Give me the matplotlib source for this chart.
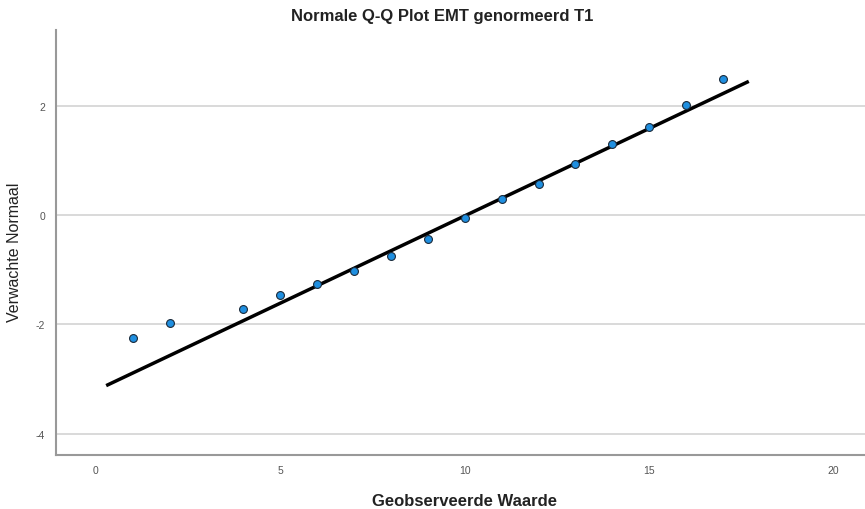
import matplotlib
matplotlib.use("Agg")
import matplotlib.pyplot as plt

observed = [1, 2, 4, 5, 6, 7, 8, 9, 10, 11, 12, 13, 14, 15, 16, 17]
expected = [-2.25, -1.97, -1.72, -1.47, -1.26, -1.03, -0.75, -0.44, -0.06,
            0.29, 0.58, 0.93, 1.30, 1.62, 2.01, 2.49]
line_x = [0.28, 17.7]
line_y = [-3.12, 2.45]
xticks = [0, 5, 10, 15, 20]
yticks = [-4, -2, 0, 2]

title = "Normale Q-Q Plot EMT genormeerd T1"
xlabel = "Geobserveerde Waarde"
ylabel = "Verwachte Normaal"

plt.rcParams['font.family'] = ['Liberation Sans', 'DejaVu Sans']
plt.rcParams['axes.unicode_minus'] = False

fig = plt.figure(figsize=(8.65, 5.10), dpi=100)
ax = fig.add_axes([56/865, 54/510, 1 - 56/865, (456-31)/510])

ax.set_xlim(-1.08, 20.85)
ax.set_ylim(-4.39, 3.39)

for y in yticks:
    ax.axhline(y, color='#d9d9d9', lw=1.4, zorder=0)

ax.plot(line_x, line_y, color='black', lw=2.5, zorder=2, solid_capstyle='butt')
ax.scatter(observed, expected, s=32, facecolor='#1f8fe0', edgecolor='#1a2a3a',
           linewidths=0.8, zorder=3)

ax.set_xticks(xticks)
ax.set_yticks(yticks)
ax.tick_params(length=0, labelsize=7.5, labelcolor='#555555')
ax.tick_params(axis='x', pad=7)
ax.tick_params(axis='y', pad=8)

for s in ['top', 'right']:
    ax.spines[s].set_visible(False)
for s in ['left', 'bottom']:
    ax.spines[s].set_color('#999999')
    ax.spines[s].set_linewidth(1.5)

fig.text(442/865, 1 - 16/510, title, ha='center', va='center',
         fontsize=12, fontweight='bold', color='#222222')
fig.text(465/865, 1 - 502/510, xlabel, ha='center', va='center',
         fontsize=12, fontweight='bold', color='#222222')
fig.text(15/865, 1 - 252/510, ylabel, ha='center', va='center', rotation=90,
         fontsize=11.5, color='#222222')

fig.savefig('out.png', dpi=100)
